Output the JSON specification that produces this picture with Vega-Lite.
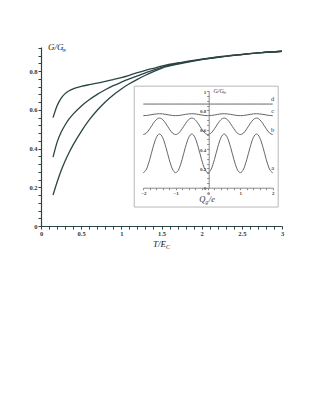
{
  "$schema": "https://vega.github.io/schema/vega-lite/v6.json",
  "width": 241,
  "height": 179,
  "autosize": {"type": "none"},
  "padding": {"left": 41, "top": 47, "right": 34, "bottom": 183},
  "background": "white",
  "config": {"view": {"stroke": null}, "font": "Liberation Serif"},
  "datasets": {
    "main": [
      {"t": 0.15, "c1": 0.56, "c2": 0.356, "c3": 0.16},
      {"t": 0.2, "c1": 0.622, "c2": 0.432, "c3": 0.226},
      {"t": 0.25, "c1": 0.66, "c2": 0.484, "c3": 0.285},
      {"t": 0.3, "c1": 0.684, "c2": 0.522, "c3": 0.336},
      {"t": 0.35, "c1": 0.699, "c2": 0.553, "c3": 0.38},
      {"t": 0.4, "c1": 0.709, "c2": 0.578, "c3": 0.419},
      {"t": 0.5, "c1": 0.721, "c2": 0.619, "c3": 0.488},
      {"t": 0.6, "c1": 0.73, "c2": 0.652, "c3": 0.548},
      {"t": 0.7, "c1": 0.738, "c2": 0.68, "c3": 0.598},
      {"t": 0.8, "c1": 0.747, "c2": 0.704, "c3": 0.641},
      {"t": 0.9, "c1": 0.757, "c2": 0.725, "c3": 0.677},
      {"t": 1.0, "c1": 0.767, "c2": 0.743, "c3": 0.708},
      {"t": 1.1, "c1": 0.779, "c2": 0.76, "c3": 0.735},
      {"t": 1.2, "c1": 0.792, "c2": 0.776, "c3": 0.758},
      {"t": 1.3, "c1": 0.804, "c2": 0.791, "c3": 0.779},
      {"t": 1.4, "c1": 0.815, "c2": 0.806, "c3": 0.798},
      {"t": 1.5, "c1": 0.826, "c2": 0.82, "c3": 0.815},
      {"t": 1.75, "c1": 0.846, "c2": 0.843, "c3": 0.84},
      {"t": 2.0, "c1": 0.862, "c2": 0.861, "c3": 0.86},
      {"t": 2.25, "c1": 0.876, "c2": 0.875, "c3": 0.874},
      {"t": 2.5, "c1": 0.887, "c2": 0.886, "c3": 0.886},
      {"t": 2.75, "c1": 0.896, "c2": 0.896, "c3": 0.896},
      {"t": 3.0, "c1": 0.903, "c2": 0.903, "c3": 0.903}
    ],
    "inset": [
      {"q": -2.0, "a": 0.155, "b": 0.55, "c": 0.745, "d": 0.865},
      {"q": -1.9, "a": 0.193, "b": 0.566, "c": 0.747, "d": 0.865},
      {"q": -1.8, "a": 0.293, "b": 0.609, "c": 0.752, "d": 0.865},
      {"q": -1.7, "a": 0.417, "b": 0.661, "c": 0.758, "d": 0.865},
      {"q": -1.6, "a": 0.517, "b": 0.704, "c": 0.763, "d": 0.865},
      {"q": -1.5, "a": 0.555, "b": 0.72, "c": 0.765, "d": 0.865},
      {"q": -1.4, "a": 0.517, "b": 0.704, "c": 0.763, "d": 0.865},
      {"q": -1.3, "a": 0.417, "b": 0.661, "c": 0.758, "d": 0.865},
      {"q": -1.2, "a": 0.293, "b": 0.609, "c": 0.752, "d": 0.865},
      {"q": -1.1, "a": 0.193, "b": 0.566, "c": 0.747, "d": 0.865},
      {"q": -1.0, "a": 0.155, "b": 0.55, "c": 0.745, "d": 0.865},
      {"q": -0.9, "a": 0.193, "b": 0.566, "c": 0.747, "d": 0.865},
      {"q": -0.8, "a": 0.293, "b": 0.609, "c": 0.752, "d": 0.865},
      {"q": -0.7, "a": 0.417, "b": 0.661, "c": 0.758, "d": 0.865},
      {"q": -0.6, "a": 0.517, "b": 0.704, "c": 0.763, "d": 0.865},
      {"q": -0.5, "a": 0.555, "b": 0.72, "c": 0.765, "d": 0.865},
      {"q": -0.4, "a": 0.517, "b": 0.704, "c": 0.763, "d": 0.865},
      {"q": -0.3, "a": 0.417, "b": 0.661, "c": 0.758, "d": 0.865},
      {"q": -0.2, "a": 0.293, "b": 0.609, "c": 0.752, "d": 0.865},
      {"q": -0.1, "a": 0.193, "b": 0.566, "c": 0.747, "d": 0.865},
      {"q": 0.0, "a": 0.155, "b": 0.55, "c": 0.745, "d": 0.865},
      {"q": 0.1, "a": 0.193, "b": 0.566, "c": 0.747, "d": 0.865},
      {"q": 0.2, "a": 0.293, "b": 0.609, "c": 0.752, "d": 0.865},
      {"q": 0.3, "a": 0.417, "b": 0.661, "c": 0.758, "d": 0.865},
      {"q": 0.4, "a": 0.517, "b": 0.704, "c": 0.763, "d": 0.865},
      {"q": 0.5, "a": 0.555, "b": 0.72, "c": 0.765, "d": 0.865},
      {"q": 0.6, "a": 0.517, "b": 0.704, "c": 0.763, "d": 0.865},
      {"q": 0.7, "a": 0.417, "b": 0.661, "c": 0.758, "d": 0.865},
      {"q": 0.8, "a": 0.293, "b": 0.609, "c": 0.752, "d": 0.865},
      {"q": 0.9, "a": 0.193, "b": 0.566, "c": 0.747, "d": 0.865},
      {"q": 1.0, "a": 0.155, "b": 0.55, "c": 0.745, "d": 0.865},
      {"q": 1.1, "a": 0.193, "b": 0.566, "c": 0.747, "d": 0.865},
      {"q": 1.2, "a": 0.293, "b": 0.609, "c": 0.752, "d": 0.865},
      {"q": 1.3, "a": 0.417, "b": 0.661, "c": 0.758, "d": 0.865},
      {"q": 1.4, "a": 0.517, "b": 0.704, "c": 0.763, "d": 0.865},
      {"q": 1.5, "a": 0.555, "b": 0.72, "c": 0.765, "d": 0.865},
      {"q": 1.6, "a": 0.517, "b": 0.704, "c": 0.763, "d": 0.865},
      {"q": 1.7, "a": 0.417, "b": 0.661, "c": 0.758, "d": 0.865},
      {"q": 1.8, "a": 0.293, "b": 0.609, "c": 0.752, "d": 0.865},
      {"q": 1.9, "a": 0.193, "b": 0.566, "c": 0.747, "d": 0.865},
      {"q": 2.0, "a": 0.155, "b": 0.55, "c": 0.745, "d": 0.865}
    ]
  },
  "layer": [
    {
      "data": {"name": "main"},
      "transform": [{"fold": ["c1", "c2", "c3"], "as": ["curve", "g"]}],
      "mark": {"type": "line", "interpolate": "monotone", "color": "#2c4444", "strokeWidth": 1.3},
      "encoding": {
        "x": {
          "field": "t", "type": "quantitative",
          "scale": {"domain": [0, 3], "nice": false},
          "axis": {
            "title": null, "grid": false, "orient": "bottom",
            "values": [0, 0.1, 0.2, 0.3, 0.4, 0.5, 0.6, 0.7, 0.8, 0.9, 1, 1.1, 1.2, 1.3, 1.4, 1.5, 1.6, 1.7, 1.8, 1.9, 2, 2.1, 2.2, 2.3, 2.4, 2.5, 2.6, 2.7, 2.8, 2.9, 3],
            "format": "~g",
            "labelExpr": "abs(datum.value*2-round(datum.value*2))<0.001 ? datum.label : ''",
            "labelFlush": false, "labelOverlap": false,
            "tickSize": 3, "labelPadding": 1,
            "labelFont": "Liberation Serif", "labelFontSize": 6.5, "labelFontWeight": "bold",
            "labelColor": "#333", "domainColor": "#2c4444", "tickColor": "#2c4444", "domainWidth": 1.2
          }
        },
        "y": {
          "field": "g", "type": "quantitative",
          "scale": {"domain": [0, 0.925], "nice": false},
          "axis": {
            "title": null, "grid": false, "orient": "left",
            "values": [0, 0.04, 0.08, 0.12, 0.16, 0.2, 0.24, 0.28, 0.32, 0.36, 0.4, 0.44, 0.48, 0.52, 0.56, 0.6, 0.64, 0.68, 0.72, 0.76, 0.8, 0.84, 0.88, 0.92],
            "format": "~g",
            "labelExpr": "abs(datum.value*5-round(datum.value*5))<0.001 ? datum.label : ''",
            "labelFlush": false, "labelOverlap": false,
            "tickSize": 3, "labelPadding": 1,
            "labelFont": "Liberation Serif", "labelFontSize": 6.5, "labelFontWeight": "bold",
            "labelColor": "#333", "domainColor": "#2c4444", "tickColor": "#2c4444", "domainWidth": 1.2
          }
        },
        "detail": {"field": "curve"}
      }
    },
    {
      "data": {"values": [{}]},
      "encoding": {
        "x": {"datum": 0.087, "type": "quantitative", "scale": {"domain": [0, 3], "nice": false}, "axis": null},
        "y": {"datum": 0.924, "type": "quantitative", "scale": {"domain": [0, 0.925], "nice": false}, "axis": null}
      },
      "layer": [
        {"mark": {"type": "text", "text": "G/G", "font": "Liberation Serif", "fontStyle": "italic", "fontSize": 9, "align": "left", "baseline": "middle", "color": "#222"}},
        {"mark": {"type": "text", "text": "∞", "font": "Liberation Serif", "fontSize": 6, "align": "left", "baseline": "middle", "dx": 14, "dy": 3, "color": "#222"}},
        {"mark": {"type": "text", "text": "T/E", "font": "Liberation Serif", "fontStyle": "italic", "fontSize": 9, "align": "left", "baseline": "middle", "color": "#222"},
         "encoding": {"x": {"datum": 1.394, "type": "quantitative"}, "y": {"datum": -0.093, "type": "quantitative"}}},
        {"mark": {"type": "text", "text": "C", "font": "Liberation Serif", "fontStyle": "italic", "fontSize": 6, "align": "left", "baseline": "middle", "dx": 13, "dy": 3, "color": "#222"},
         "encoding": {"x": {"datum": 1.394, "type": "quantitative"}, "y": {"datum": -0.093, "type": "quantitative"}}}
      ]
    },
    {
      "data": {"values": [{}]},
      "mark": {"type": "rect", "fill": "white", "stroke": "#b8b8b8", "strokeWidth": 1},
      "encoding": {
        "x": {"datum": -2.28, "type": "quantitative", "scale": {"domain": [-2, 2], "nice": false, "range": [102.3, 231.7]}, "axis": null},
        "x2": {"datum": 2.17},
        "y": {"datum": -0.2, "type": "quantitative", "scale": {"domain": [0, 1], "nice": false, "range": [140.7, 44]}, "axis": null},
        "y2": {"datum": 1.05}
      }
    },
    {
      "data": {"name": "inset"},
      "transform": [{"fold": ["a", "b", "c", "d"], "as": ["curve", "g"]}],
      "mark": {"type": "line", "interpolate": "monotone", "color": "#555", "strokeWidth": 0.9},
      "encoding": {
        "x": {
          "field": "q", "type": "quantitative",
          "scale": {"domain": [-2, 2], "nice": false, "range": [102.3, 231.7]},
          "axis": {
            "title": null, "grid": false, "orient": "bottom", "offset": -38.3, "zindex": 1,
            "values": [-2, -1.8, -1.6, -1.4, -1.2, -1, -0.8, -0.6, -0.4, -0.2, 0, 0.2, 0.4, 0.6, 0.8, 1, 1.2, 1.4, 1.6, 1.8, 2],
            "format": "~g",
            "labelExpr": "abs(datum.value-round(datum.value))<0.001 ? datum.label : ''",
            "labelFlush": false, "labelOverlap": false,
            "tickSize": 2, "labelPadding": 1,
            "labelFont": "Liberation Serif", "labelFontSize": 5, "labelFontWeight": "bold",
            "labelColor": "#444", "domainColor": "#888", "tickColor": "#888"
          }
        },
        "y": {
          "field": "g", "type": "quantitative",
          "scale": {"domain": [0, 1], "nice": false, "range": [140.7, 44]},
          "axis": {
            "title": null, "grid": false, "orient": "left", "offset": -167.7, "zindex": 1,
            "values": [0, 0.05, 0.1, 0.15, 0.2, 0.25, 0.3, 0.35, 0.4, 0.45, 0.5, 0.55, 0.6, 0.65, 0.7, 0.75, 0.8, 0.85, 0.9, 0.95, 1],
            "format": "~g",
            "labelExpr": "abs(datum.value*5-round(datum.value*5))<0.001 ? datum.label : ''",
            "labelFlush": false, "labelOverlap": false,
            "tickSize": 2, "labelPadding": 1,
            "labelFont": "Liberation Serif", "labelFontSize": 5, "labelFontWeight": "bold",
            "labelColor": "#444", "domainColor": "#888", "tickColor": "#888"
          }
        },
        "detail": {"field": "curve"}
      }
    },
    {
      "layer": [
        {
          "data": {"name": "inset"},
          "transform": [{"fold": ["a", "b", "c", "d"], "as": ["curve", "g"]}, {"filter": "datum.q == 2"}],
          "mark": {"type": "text", "font": "Liberation Serif", "fontSize": 6.5, "align": "center", "baseline": "middle", "dy": -5, "color": "#333"},
          "encoding": {
            "x": {"field": "q", "type": "quantitative", "scale": {"domain": [-2, 2], "nice": false, "range": [102.3, 231.7]}, "axis": null},
            "y": {"field": "g", "type": "quantitative", "scale": {"domain": [0, 1], "nice": false, "range": [140.7, 44]}, "axis": null},
            "text": {"field": "curve"}
          }
        },
        {
          "data": {"values": [{}]},
          "encoding": {
            "x": {"datum": 0.17, "type": "quantitative", "axis": null},
            "y": {"datum": 1.0, "type": "quantitative", "axis": null}
          },
          "layer": [
            {"mark": {"type": "text", "text": "G/G", "font": "Liberation Serif", "fontStyle": "italic", "fontSize": 6, "align": "left", "baseline": "middle", "color": "#333"}},
            {"mark": {"type": "text", "text": "∞", "font": "Liberation Serif", "fontSize": 4.5, "align": "left", "baseline": "middle", "dx": 9.5, "dy": 2, "color": "#333"}},
            {"mark": {"type": "text", "text": "Q", "font": "Liberation Serif", "fontStyle": "italic", "fontSize": 8.5, "align": "left", "baseline": "middle", "color": "#333"},
             "encoding": {"x": {"datum": -0.27, "type": "quantitative"}, "y": {"datum": -0.117, "type": "quantitative"}}},
            {"mark": {"type": "text", "text": "g", "font": "Liberation Serif", "fontStyle": "italic", "fontSize": 5.5, "align": "left", "baseline": "middle", "dx": 6.2, "dy": 2.5, "color": "#333"},
             "encoding": {"x": {"datum": -0.27, "type": "quantitative"}, "y": {"datum": -0.117, "type": "quantitative"}}},
            {"mark": {"type": "text", "text": "/e", "font": "Liberation Serif", "fontStyle": "italic", "fontSize": 8.5, "align": "left", "baseline": "middle", "dx": 9.5, "color": "#333"},
             "encoding": {"x": {"datum": -0.27, "type": "quantitative"}, "y": {"datum": -0.117, "type": "quantitative"}}}
          ]
        }
      ]
    }
  ],
  "resolve": {
    "scale": {"x": "independent", "y": "independent"},
    "axis": {"x": "independent", "y": "independent"}
  }
}
